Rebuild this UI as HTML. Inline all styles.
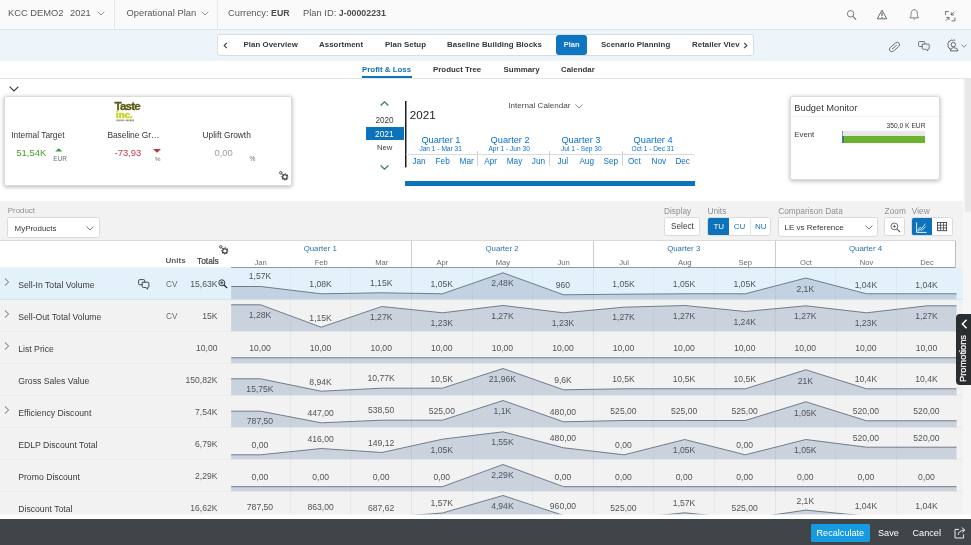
<!DOCTYPE html>
<html lang="en"><head><meta charset="utf-8"><title>Plan - Profit &amp; Loss</title>
<style>
*{box-sizing:border-box;margin:0;padding:0}
html,body{width:971px;height:545px;overflow:hidden;background:#fff}
body{font-family:"Liberation Sans",sans-serif;font-size:9px;color:#32363a;-webkit-font-smoothing:antialiased}
#app{position:relative;width:971px;height:545px;overflow:hidden;background:#fff}
.abs,.t{position:absolute;white-space:nowrap}
.t{line-height:12px;height:12px}
/* shell header */
.shell{position:absolute;left:0;top:0;width:971px;height:29.5px;background:#fafafa;border-bottom:1px solid #e1e5e8}
.shell .sep{position:absolute;top:0;width:1px;height:29px;background:#e8e8e8}
.shell .t{font-size:9.35px;color:#55595c;top:6.6px}
.shell b{color:#4a4e52;font-size:8.8px}
.ico{position:absolute;overflow:visible}
/* nav bar */
.navbar{position:absolute;left:0;top:29.5px;width:971px;height:31px;background:#eef5fa}
.navbox{position:absolute;left:217px;top:4.5px;width:536.5px;height:21.5px;background:#fff;border:1px solid #d8dde2;border-radius:3px}
.navbox .t{font-size:7.85px;font-weight:bold;color:#32363a;top:4.2px;letter-spacing:0.05px}
.navbox .act{position:absolute;left:338px;top:0;width:30.8px;height:19.5px;background:#0e76c0;border-radius:3px}
/* sub tabs */
.subtabs{position:absolute;left:0;top:60.5px;width:971px;height:18px;background:#fff;border-bottom:1px solid #e5e5e5}
.subtabs .t{font-size:7.9px;font-weight:bold;color:#32363a;top:3.2px}
.subtabs .on{color:#1470b4}
.subtabs .ul{position:absolute;left:361.5px;top:15.8px;width:50px;height:2px;background:#1470b4}
/* kpi zone */
.card{position:absolute;background:#fff;border:1px solid #dcdcdc;border-radius:2px;box-shadow:0 1px 4px rgba(0,0,0,.3)}
.kl{font-size:8.35px;color:#32363a}
.kv{font-size:9.45px}
.ku{font-size:6.2px;color:#6a6d70}
/* calendar */
.cal .t{color:#0a6ed1}
.q{font-size:9.25px;color:#2a75a8}
.qs{font-size:6.6px;color:#2b6d9c}
.m{font-size:8.2px;color:#337aae}
/* filter bar */
.fbar{position:absolute;left:0;top:201px;width:963px;height:40px;background:#f2f2f2}
.fl{font-size:8.3px;color:#8d9093}
.inp{position:absolute;background:#fff;border:1px solid #d9dcdf;border-radius:2.5px}
.inp .t{font-size:8.2px;color:#32363a}
/* table */
.thead{z-index:3;position:absolute;left:0;top:240px;width:956px;height:27px;background:#fff;border-top:1px solid #d9d9d9}
.thead .hr{position:absolute;left:955px;top:0;width:1px;height:27px;background:#b9bdc0}
.thead .hb{position:absolute;left:231px;top:25.6px;width:725px;height:1.2px;background:#92989d}
.th-units{position:absolute;left:165.6px;top:14.2px;font-size:8px;font-weight:bold;color:#5a5e61;line-height:12px}
.th-totals{position:absolute;left:196.6px;top:13.6px;font-size:9.4px;color:#3a3e42;line-height:12px;transform-origin:0 50%;transform:scaleX(.89);-webkit-text-stroke:0.22px #3a3e42}
.qh{position:absolute;top:1.8px;height:12px;line-height:12px;text-align:center;font-size:7.85px;color:#2a75a8}
.mh{position:absolute;top:15.7px;height:12px;line-height:12px;text-align:center;font-size:7.6px;color:#6a6d70}
.qdiv{position:absolute;top:0;width:1px;height:26px;background:#c9cdd0}
.tbody{position:absolute;left:0;top:241px;width:963px;height:273.6px;overflow:hidden;background:#f2f2f2}
.row{position:absolute;left:0;width:963px;height:32px;border-bottom:1px solid #eaebec;background:#f2f2f2}
.row.sel{background:#e3f1fb;border-bottom-color:#d6e4ee}
.exp{position:absolute;left:3px;top:9.5px}
.rname{position:absolute;left:18.2px;top:11.6px;height:12px;line-height:12px;font-size:8.68px;color:#383c40;white-space:nowrap}
.runit{position:absolute;left:166px;top:11.5px;height:12px;line-height:12px;font-size:8.2px;color:#6a6d70}
.rtotal{position:absolute;left:150px;width:67.5px;text-align:right;height:12px;line-height:12px;font-size:8.6px;color:#50555a}
.chart{position:absolute;left:231px;top:0}
.ar{fill:#a9b8cd;fill-opacity:.55;stroke:none}
.ln{fill:none;stroke:#64727d;stroke-width:.9}
.val{position:absolute;height:12px;line-height:12px;text-align:center;font-size:8.6px;color:#50555a}
.cgl{position:absolute;top:26.5px;width:1px;height:250px;background:rgba(120,130,140,.075)}
.cgl.q{background:rgba(110,120,130,.12)}
/* footer */
.foot{position:absolute;left:0;top:519px;width:971px;height:26px;background:#3f4548}
.foot .t{font-size:9.15px;color:#fff;top:8px}
.foot .btn{position:absolute;left:811px;top:5px;width:59px;height:18px;background:#179be0;border-radius:1.5px}
.sb{position:absolute;left:963px;top:79px;width:8px;height:436px;background:#f6f6f6}
.sbt{position:absolute;left:965.4px;top:79px;width:5.6px;height:133px;background:#e8e8e8;border-radius:0 0 2px 2px}
.promo{position:absolute;left:956px;top:314px;width:15px;height:71px;background:#2a2e31;border-radius:4px 0 0 4px}

</style></head>
<body>
<div id="app">
<!-- shell header -->
<div class="shell">
  <div class="t" style="left:8px">KCC DEMO2</div><div class="t" style="left:70px">2021</div>
  <svg class="ico" style="left:97px;top:11px" width="8" height="5" viewBox="0 0 8 5"><path d="M0.6 0.6 L4 4 L7.4 0.6" fill="none" stroke="#6a86a5" stroke-width="0.85"/></svg>
  <div class="sep" style="left:114px"></div>
  <div class="t" style="left:126.5px">Operational Plan</div>
  <svg class="ico" style="left:200.5px;top:11px" width="8" height="5" viewBox="0 0 8 5"><path d="M0.6 0.6 L4 4 L7.4 0.6" fill="none" stroke="#6a86a5" stroke-width="0.85"/></svg>
  <div class="sep" style="left:217px"></div>
  <div class="t" style="left:228px">Currency: <b>EUR</b></div>
  <div class="t" style="left:303px">Plan ID: <b>J-00002231</b></div>
  <!-- search -->
  <svg class="ico" style="left:846px;top:9px" width="12" height="12" viewBox="0 0 12 12"><circle cx="4.6" cy="4.8" r="3.2" fill="none" stroke="#6a6d70" stroke-width="0.9"/><path d="M6.9 7.3 L10.1 10.6" stroke="#6a6d70" stroke-width="1.1" fill="none"/></svg>
  <!-- warning -->
  <svg class="ico" style="left:875.8px;top:9px" width="12" height="11" viewBox="0 0 12 11"><path d="M6 1.2 L10.8 9.8 L1.2 9.8 Z" fill="none" stroke="#55595c" stroke-width="0.9" stroke-linejoin="round"/><path d="M6 3.6 L6 7" stroke="#55595c" stroke-width="1.1"/><circle cx="6" cy="8.4" r="0.6" fill="#55595c"/></svg>
  <!-- bell -->
  <svg class="ico" style="left:909.3px;top:9.4px" width="10.4" height="11.3" viewBox="0 0 11 12"><path d="M1 9.4 C2.3 8 2 6.3 2.2 4.4 C2.4 2.2 3.7 0.8 5.5 0.8 C7.3 0.8 8.6 2.2 8.8 4.4 C9 6.3 8.7 8 10 9.4 Z" fill="none" stroke="#6a6d70" stroke-width="0.9" stroke-linejoin="round"/><path d="M4.5 10.4 Q5.5 11.4 6.5 10.4" fill="none" stroke="#6a6d70" stroke-width="0.9"/></svg>
  <!-- exit fullscreen -->
  <svg class="ico" style="left:944.8px;top:10.6px" width="10.4" height="10.4" viewBox="0 0 11 11"><path d="M0.5 4 L0.5 0.5 L4 0.5 M10.5 7 L10.5 10.5 L7 10.5" fill="none" stroke="#55595c" stroke-width="0.9"/><path d="M10 0.8 L6.6 4.2 M6.6 1.4 L6.6 4.2 L9.4 4.2 M0.8 10.2 L4.2 6.8 M1.4 6.8 L4.2 6.8 L4.2 9.6" fill="none" stroke="#55595c" stroke-width="0.9"/></svg>
</div>

<!-- nav bar -->
<div class="navbar">
  <div class="navbox">
    <svg class="ico" style="left:5px;top:6.6px" width="5" height="7" viewBox="0 0 5 7"><path d="M3.8 0.8 L1.2 3.5 L3.8 6.2" fill="none" stroke="#45494d" stroke-width="1.2"/></svg>
    <div class="t" style="left:25.5px">Plan Overview</div>
    <div class="t" style="left:101px">Assortment</div>
    <div class="t" style="left:167px">Plan Setup</div>
    <div class="t" style="left:229px">Baseline Building Blocks</div>
    <div class="act"></div>
    <div class="t" style="left:345.7px;color:#eef6fd;font-size:7.5px;top:3.6px">Plan</div>
    <div class="t" style="left:383px">Scenario Planning</div>
    <div class="t" style="left:474px">Retailer Viev</div>
    <svg class="ico" style="left:524.6px;top:6.6px" width="5" height="7" viewBox="0 0 5 7"><path d="M1.2 0.8 L3.8 3.5 L1.2 6.2" fill="none" stroke="#45494d" stroke-width="1.2"/></svg>
  </div>
  <!-- paperclip -->
  <svg class="ico" style="left:888px;top:11px" width="13" height="12" viewBox="0 0 13 12"><g transform="rotate(-40 6.5 6)"><rect x="0.6" y="3.6" width="11.8" height="4.8" rx="2.4" fill="none" stroke="#6a6d70" stroke-width="0.9"/><path d="M3.2 6 L9.4 6" stroke="#6a6d70" stroke-width="0.9" fill="none"/></g></svg>
  <!-- chat -->
  <svg class="ico" style="left:918.2px;top:11.4px" width="12" height="11" viewBox="0 0 13 12"><rect x="0.6" y="0.6" width="6.8" height="5.4" rx="1" fill="none" stroke="#55595c" stroke-width="0.9"/><path d="M4.6 3.4 L11.2 3.4 Q12.2 3.4 12.2 4.4 L12.2 8 Q12.2 9 11.2 9 L10.6 9 L10.6 10.8 L8.6 9 L5.6 9 Q4.6 9 4.6 8 Z" fill="#eef5fa" stroke="#55595c" stroke-width="0.9" stroke-linejoin="round"/></svg>
  <!-- user settings -->
  <svg class="ico" style="left:947px;top:9.6px" width="12" height="13" viewBox="0 0 12 13"><path d="M8.2 1.6 L6.9 0.8 L5.6 1.5 L4.2 0.9 L3.2 2.1 L1.7 2.4 L1.6 3.9 L0.6 5 L1.3 6.4 L0.9 7.9 L2.2 8.7 L2.6 10.1 L3.8 10.3" fill="none" stroke="#55595c" stroke-width="0.9" stroke-linejoin="round"/><circle cx="6.3" cy="5.6" r="2.2" fill="none" stroke="#55595c" stroke-width="0.9"/><path d="M3.4 11.9 Q3.4 8.6 6.6 8.6 Q10.8 8.6 11 11.9 Z" fill="none" stroke="#55595c" stroke-width="0.9" stroke-linejoin="round"/></svg>
  <svg class="ico" style="left:961px;top:14.5px" width="6" height="4" viewBox="0 0 6 4"><path d="M0.4 0.5 L3 3.2 L5.6 0.5" fill="none" stroke="#6a6d70" stroke-width="0.8"/></svg>
</div>

<!-- sub tabs -->
<div class="subtabs">
  <div class="t on" style="left:362px">Profit &amp; Loss</div>
  <div class="ul"></div>
  <div class="t" style="left:433px">Product Tree</div>
  <div class="t" style="left:503.6px">Summary</div>
  <div class="t" style="left:561px">Calendar</div>
</div>

<!-- collapse chevron -->
<svg class="ico" style="left:8.8px;top:86.1px" width="10" height="6" viewBox="0 0 10 6"><path d="M0.6 0.7 L5 4.9 L9.4 0.7" fill="none" stroke="#32363a" stroke-width="1.1"/></svg>

<!-- KPI card -->
<div class="card" style="left:3.9px;top:95.7px;width:288.4px;height:90.2px">
  <div class="abs" style="left:109.6px;top:3.6px;font-size:11.7px;font-weight:bold;color:#5b5a12;letter-spacing:-0.85px;line-height:11px;-webkit-text-stroke:0.3px #5b5a12">Taste</div>
  <div class="abs" style="left:110.9px;top:14.4px;font-size:8.4px;font-weight:bold;color:#c5d21e;letter-spacing:0;line-height:9px;transform-origin:0 50%;transform:scaleX(1.15);-webkit-text-stroke:0.45px #c5d21e">inc.</div>
  <svg class="ico" style="left:111.6px;top:22px" width="20" height="3" viewBox="0 0 20 3"><path d="M0.4 1.4 H8.4 M9.6 1.4 H18.2" stroke="#6f6c3c" stroke-width="1.7" stroke-dasharray="1.1 0.35" fill="none" opacity=".75"/></svg>
  <div class="t kl" style="left:6.4px;top:32px">Internal Target</div>
  <div class="t kv" style="left:11.4px;top:50px;color:#4d9a2d">51,54K</div>
  <svg class="ico" style="left:50.4px;top:51.8px" width="7.6" height="3.6" viewBox="0 0 8 4"><path d="M0 4 L4 0.2 L8 4 Z" fill="#3f9a3a"/></svg>
  <div class="t ku" style="left:48.4px;top:56.2px;font-size:6.5px">EUR</div>
  <div class="t kl" style="left:102.5px;top:32px">Baseline Gr…</div>
  <div class="t kv" style="left:109.6px;top:50px;color:#c23b46">-73,93</div>
  <svg class="ico" style="left:148.5px;top:52px" width="8" height="4" viewBox="0 0 8 4"><path d="M0 0 L8 0 L4 3.8 Z" fill="#c4303c"/></svg>
  <div class="t ku" style="left:150.2px;top:56.6px">%</div>
  <div class="t kl" style="left:197.7px;top:32px">Uplift Growth</div>
  <div class="t kv" style="left:209.5px;top:50px;color:#9a9da0">0,00</div>
  <div class="t ku" style="left:244.6px;top:56.6px;font-size:6.6px">%</div>
  <!-- gear -->
  <svg class="ico" style="left:274px;top:74px" width="10" height="10" viewBox="0 0 10 10"><circle cx="1.8" cy="1.8" r="1.25" fill="none" stroke="#32363a" stroke-width="0.85"/><path d="M2.7 2.7 L3.8 3.9" stroke="#32363a" stroke-width="0.8" fill="none"/><circle cx="5.9" cy="5.9" r="2.2" fill="none" stroke="#32363a" stroke-width="1.05"/><circle cx="5.9" cy="5.9" r="3" fill="none" stroke="#32363a" stroke-width="1.1" stroke-dasharray="1.2 1.1562" stroke-dashoffset="0.6"/></svg>
</div>

<!-- calendar -->
<div class="cal">
  <svg class="ico" style="left:380px;top:100.8px" width="9" height="5" viewBox="0 0 9 5"><path d="M0.6 4.5 L4.5 0.8 L8.4 4.5" fill="none" stroke="#3b7a5e" stroke-width="1.25"/></svg>
  <div class="t" style="left:375.4px;top:115px;font-size:8.2px;color:#3a3e42">2020</div>
  <div class="abs" style="left:365.8px;top:127.2px;width:38.4px;height:13px;background:#0c72bc"></div>
  <div class="t" style="left:375px;top:128px;font-size:8.4px;color:#fff">2021</div>
  <div class="t" style="left:377px;top:141.5px;font-size:7.7px;color:#3a3e42">New</div>
  <svg class="ico" style="left:380px;top:164.8px" width="9" height="5" viewBox="0 0 9 5"><path d="M0.6 0.5 L4.5 4.2 L8.4 0.5" fill="none" stroke="#3b7a5e" stroke-width="1.25"/></svg>
  <svg class="ico" style="left:404px;top:101px" width="4" height="67" viewBox="0 0 4 67"><rect x="1" y="0" width="1.5" height="66.4" fill="#1c1c1c"/></svg>
  <div class="t" style="left:409.8px;top:108px;font-size:11.6px;color:#222;line-height:14px;height:14px">2021</div>
  <div class="t" style="left:508.3px;top:99.8px;font-size:8.1px;color:#45494d">Internal Calendar</div>
  <svg class="ico" style="left:574.5px;top:104.4px" width="8" height="5" viewBox="0 0 8 5"><path d="M0.5 0.5 L4 4 L7.5 0.5" fill="none" stroke="#6a6d70" stroke-width="0.8"/></svg>
  <div class="abs" style="left:406px;top:153.6px;width:289px;height:1px;background:#d9dcde"></div>
  <div class="abs" style="left:477.2px;top:150.5px;width:1px;height:15px;background:#d0d3d6"></div>
  <div class="abs" style="left:549px;top:150.5px;width:1px;height:15px;background:#d0d3d6"></div>
  <div class="abs" style="left:622px;top:150.5px;width:1px;height:15px;background:#d0d3d6"></div>
  <div class="t q" style="left:421.4px;top:133.6px">Quarter 1</div>
  <div class="t q" style="left:490.6px;top:133.6px">Quarter 2</div>
  <div class="t q" style="left:561.4px;top:133.6px">Quarter 3</div>
  <div class="t q" style="left:633.6px;top:133.6px">Quarter 4</div>
  <div class="t qs" style="left:419.4px;top:142.6px">Jan 1 - Mar 31</div>
  <div class="t qs" style="left:488.4px;top:142.6px">Apr 1 - Jun 30</div>
  <div class="t qs" style="left:561px;top:142.6px">Jul 1 - Sep 30</div>
  <div class="t qs" style="left:631.6px;top:142.6px">Oct 1 - Dec 31</div>
  <div class="t m" style="left:412.4px;top:155.6px">Jan</div>
  <div class="t m" style="left:435.6px;top:155.6px">Feb</div>
  <div class="t m" style="left:459.6px;top:155.6px">Mar</div>
  <div class="t m" style="left:484.2px;top:155.6px">Apr</div>
  <div class="t m" style="left:506.8px;top:155.6px">May</div>
  <div class="t m" style="left:531.8px;top:155.6px">Jun</div>
  <div class="t m" style="left:557.6px;top:155.6px">Jul</div>
  <div class="t m" style="left:579.4px;top:155.6px">Aug</div>
  <div class="t m" style="left:603.6px;top:155.6px">Sep</div>
  <div class="t m" style="left:628px;top:155.6px">Oct</div>
  <div class="t m" style="left:651.6px;top:155.6px">Nov</div>
  <div class="t m" style="left:675.4px;top:155.6px">Dec</div>
  <div class="abs" style="left:405px;top:181.2px;width:290px;height:4.8px;background:#0c72bc"></div>
</div>

<!-- budget monitor -->
<div class="card" style="left:789.5px;top:95.7px;width:150.3px;height:84.8px">
  <div class="t" style="left:3.8px;top:5.2px;font-size:9.3px;color:#32363a">Budget Monitor</div>
  <div class="abs" style="left:0;top:19.6px;width:148.3px;height:1px;background:#f1f1f1"></div>
  <div class="t" style="left:86px;width:49px;text-align:right;top:23.4px;font-size:6.7px;color:#32363a">350,0 K EUR</div>
  <div class="t" style="left:3.8px;top:32.2px;font-size:7.8px;color:#32363a">Event</div>
  <div class="abs" style="left:51.5px;top:34.6px;width:83.2px;height:5.4px;background:#e6e8e5"></div>
  <div class="abs" style="left:51.5px;top:39.8px;width:83.2px;height:6.4px;background:#6db22e"></div>
  <div class="abs" style="left:51.5px;top:34.4px;width:1px;height:11.6px;background:#8a9aa8"></div>
  <div class="abs" style="left:51.5px;top:39.8px;width:1.6px;height:6.4px;background:#3d7896"></div>
</div>

<!-- filter bar -->
<div class="fbar">
  <div class="t fl" style="left:7.8px;top:4.4px;font-size:7.9px">Product</div>
  <div class="inp" style="left:7.2px;top:16px;width:92.4px;height:21px">
    <div class="t" style="left:6.4px;top:4.6px;font-size:7.95px">MyProducts</div>
    <svg class="ico" style="left:77.5px;top:7.6px" width="8" height="5" viewBox="0 0 8 5"><path d="M0.5 0.6 L4 4 L7.5 0.6" fill="none" stroke="#55595c" stroke-width="0.8"/></svg>
  </div>
  <div class="t fl" style="left:664px;top:4px">Display</div>
  <div class="inp" style="left:663.5px;top:16.4px;width:36.5px;height:18.4px"><div class="t" style="left:6.6px;top:2.4px;font-size:8.2px">Select</div></div>
  <div class="t fl" style="left:707.4px;top:4px">Units</div>
  <div class="inp" style="left:707px;top:16.4px;width:64px;height:18.4px;overflow:hidden">
    <div class="abs" style="left:-1px;top:-1px;width:22px;height:18.5px;background:#0c72bc;border-radius:2.5px 0 0 2.5px"></div>
    <div class="t" style="left:5.4px;top:2.4px;color:#fff;font-size:8px">TU</div>
    <div class="abs" style="left:41.8px;top:0;width:1px;height:17px;background:#dfe3e6"></div>
    <div class="t" style="left:25.8px;top:2.4px;color:#1470b4;font-size:8px">CU</div>
    <div class="t" style="left:47px;top:2.4px;color:#1470b4;font-size:8px">NU</div>
  </div>
  <div class="t fl" style="left:778.2px;top:4px">Comparison Data</div>
  <div class="inp" style="left:778px;top:16.4px;width:100px;height:19.5px">
    <div class="t" style="left:5.6px;top:3.4px;font-size:8px">LE vs Reference</div>
    <svg class="ico" style="left:86.4px;top:6.6px" width="8" height="5" viewBox="0 0 8 5"><path d="M0.5 0.6 L4 4 L7.5 0.6" fill="none" stroke="#55595c" stroke-width="0.8"/></svg>
  </div>
  <div class="t fl" style="left:884.6px;top:4px">Zoom</div>
  <div class="inp" style="left:884px;top:16.4px;width:20.5px;height:19px">
    <svg class="ico" style="left:4.5px;top:3.6px" width="11" height="11" viewBox="0 0 11 11"><circle cx="4.4" cy="4.4" r="3.4" fill="none" stroke="#5a5e62" stroke-width="0.9"/><path d="M6.9 6.9 L10 10" stroke="#5a5e62" stroke-width="1.1"/><path d="M2.7 4.4 H6.1 M4.4 2.7 V6.1" stroke="#5a5e62" stroke-width="0.8"/></svg>
  </div>
  <div class="t fl" style="left:911.8px;top:4px">View</div>
  <div class="inp" style="left:911px;top:16.4px;width:42px;height:18.6px;overflow:hidden">
    <div class="abs" style="left:-1px;top:-1px;width:21px;height:19px;background:#0c72bc;border-radius:2.5px 0 0 2.5px"></div>
    <svg class="ico" style="left:4px;top:3.4px" width="11" height="11" viewBox="0 0 11 11"><path d="M0.6 0.4 V10.4 H10.6" fill="none" stroke="#fff" stroke-width="0.9"/><path d="M1.6 8.6 L4 5.2 L5.8 6.6 L9.4 1.6 M1.8 9.6 L4.2 7.4 L6 8.4 L9.6 4.6" fill="none" stroke="#fff" stroke-width="0.8"/></svg>
    <svg class="ico" style="left:25px;top:3.6px" width="10" height="9.2" viewBox="0 0 11 10"><rect x="0.5" y="0.5" width="10" height="9" fill="none" stroke="#45494d" stroke-width="1"/><path d="M3.9 0.5 V9.5 M7.2 0.5 V9.5 M0.5 3.5 H10.5 M0.5 6.5 H10.5" stroke="#45494d" stroke-width="0.9" fill="none"/></svg>
  </div>
</div>
<div class="thead">
<div class="th-units">Units</div><div class="th-totals">Totals</div>
<svg class="ico" style="left:218.6px;top:3.6px" width="10" height="10" viewBox="0 0 10 10"><circle cx="1.8" cy="1.8" r="1.25" fill="none" stroke="#32363a" stroke-width="0.85"/><path d="M2.7 2.7 L3.8 3.9" stroke="#32363a" stroke-width="0.8" fill="none"/><circle cx="5.9" cy="5.9" r="2.2" fill="none" stroke="#32363a" stroke-width="1.05"/><circle cx="5.9" cy="5.9" r="3" fill="none" stroke="#32363a" stroke-width="1.1" stroke-dasharray="1.2 1.1562" stroke-dashoffset="0.6"/></svg>
<div class="hb"></div><div class="hr"></div>
<div class="qh" style="left:229.3px;width:181.8px">Quarter 1</div>
<div class="qh" style="left:411.1px;width:181.8px">Quarter 2</div>
<div class="qh" style="left:592.8px;width:181.8px">Quarter 3</div>
<div class="qh" style="left:774.6px;width:181.8px">Quarter 4</div>
<div class="mh" style="left:230.3px;width:60.6px">Jan</div>
<div class="mh" style="left:290.9px;width:60.6px">Feb</div>
<div class="mh" style="left:351.5px;width:60.6px">Mar</div>
<div class="mh" style="left:412.1px;width:60.6px">Apr</div>
<div class="mh" style="left:472.7px;width:60.6px">May</div>
<div class="mh" style="left:533.3px;width:60.6px">Jun</div>
<div class="mh" style="left:593.8px;width:60.6px">Jul</div>
<div class="mh" style="left:654.4px;width:60.6px">Aug</div>
<div class="mh" style="left:715.0px;width:60.6px">Sep</div>
<div class="mh" style="left:775.6px;width:60.6px">Oct</div>
<div class="mh" style="left:836.2px;width:60.6px">Nov</div>
<div class="mh" style="left:896.8px;width:60.6px">Dec</div>
<div class="qdiv" style="left:411px"></div>
<div class="qdiv" style="left:593px"></div>
<div class="qdiv" style="left:775px"></div>
</div>
<div class="tbody">
<div class="row sel" style="top:26.5px">
<svg class="exp" viewBox="0 0 8 10" width="8" height="10"><path d="M2 1.5 L5.6 5 L2 8.5" fill="none" stroke="#555" stroke-width="0.9"/></svg><div class="rname" style="top:11.6px">Sell-In Total Volume</div><svg class="ico" style="left:137.5px;top:11px" width="12" height="11" viewBox="0 0 12 11"><rect x="0.6" y="0.6" width="6.2" height="5.2" rx="1.2" fill="none" stroke="#32363a" stroke-width="0.9"/><path d="M4.2 3.2 L9.8 3.2 Q10.9 3.2 10.9 4.3 L10.9 7.4 Q10.9 8.5 9.8 8.5 L9.6 8.5 L9.6 10.2 L7.8 8.5 L5.3 8.5 Q4.2 8.5 4.2 7.4 Z" fill="#e3f1fb" stroke="#32363a" stroke-width="0.9" stroke-linejoin="round"/></svg><svg class="ico" style="left:217.8px;top:11.4px" width="10" height="10" viewBox="0 0 10 10"><circle cx="3.8" cy="3.8" r="3" fill="none" stroke="#1d2124" stroke-width="0.9"/><path d="M6 6 L9.2 9.2" stroke="#1d2124" stroke-width="1.2"/><path d="M2.2 3.8 H5.4 M3.8 2.2 V5.4" stroke="#1d2124" stroke-width="0.8"/></svg><div class="runit">CV</div><div class="rtotal" style="top:10.6px">15,63K</div>
<svg class="chart" width="726" height="32.0" viewBox="0 0 726 32.0"><polygon points="0.2,18.5 29.6,18.5 90.2,25.8 150.8,24.8 211.4,25.8 272.0,4.8 332.6,26.8 393.1,26.2 453.7,25.8 514.3,25.8 574.9,10.0 635.5,25.8 696.1,25.8 725.5,25.8 725.5,31.3 0.2,31.3" class="ar"/><polyline points="0.2,18.5 29.6,18.5 90.2,25.8 150.8,24.8 211.4,25.8 272.0,4.8 332.6,26.8 393.1,26.2 453.7,25.8 514.3,25.8 574.9,10.0 635.5,25.8 696.1,25.8 725.5,25.8" class="ln"/></svg>
<div class="val" style="left:229.7px;width:60.6px;top:2.5px">1,57K</div><div class="val" style="left:290.3px;width:60.6px;top:10.5px">1,08K</div><div class="val" style="left:350.9px;width:60.6px;top:9.8px">1,15K</div><div class="val" style="left:411.5px;width:60.6px;top:10.8px">1,05K</div><div class="val" style="left:472.1px;width:60.6px;top:9.8px">2,48K</div><div class="val" style="left:532.7px;width:60.6px;top:11.8px">960</div><div class="val" style="left:593.2px;width:60.6px;top:10.8px">1,05K</div><div class="val" style="left:653.8px;width:60.6px;top:10.8px">1,05K</div><div class="val" style="left:714.4px;width:60.6px;top:10.8px">1,05K</div><div class="val" style="left:775.0px;width:60.6px;top:15.5px">2,1K</div><div class="val" style="left:835.6px;width:60.6px;top:11.0px">1,04K</div><div class="val" style="left:896.2px;width:60.6px;top:11.0px">1,04K</div>
</div>
<div class="row" style="top:58.5px">
<svg class="exp" viewBox="0 0 8 10" width="8" height="10"><path d="M2 1.5 L5.6 5 L2 8.5" fill="none" stroke="#555" stroke-width="0.9"/></svg><div class="rname" style="top:11.6px">Sell-Out Total Volume</div><div class="runit">CV</div><div class="rtotal" style="top:10.6px">15K</div>
<svg class="chart" width="726" height="32.0" viewBox="0 0 726 32.0"><polygon points="0.2,4.8 29.6,4.8 90.2,27.2 150.8,6.5 211.4,12.8 272.0,5.5 332.6,12.8 393.1,7.2 453.7,5.5 514.3,11.5 574.9,5.8 635.5,12.8 696.1,5.8 725.5,5.8 725.5,31.3 0.2,31.3" class="ar"/><polyline points="0.2,4.8 29.6,4.8 90.2,27.2 150.8,6.5 211.4,12.8 272.0,5.5 332.6,12.8 393.1,7.2 453.7,5.5 514.3,11.5 574.9,5.8 635.5,12.8 696.1,5.8 725.5,5.8" class="ln"/></svg>
<div class="val" style="left:229.7px;width:60.6px;top:9.5px">1,28K</div><div class="val" style="left:290.3px;width:60.6px;top:12.2px">1,15K</div><div class="val" style="left:350.9px;width:60.6px;top:11.2px">1,27K</div><div class="val" style="left:411.5px;width:60.6px;top:17.2px">1,23K</div><div class="val" style="left:472.1px;width:60.6px;top:10.2px">1,27K</div><div class="val" style="left:532.7px;width:60.6px;top:17.2px">1,23K</div><div class="val" style="left:593.2px;width:60.6px;top:11.5px">1,27K</div><div class="val" style="left:653.8px;width:60.6px;top:10.2px">1,27K</div><div class="val" style="left:714.4px;width:60.6px;top:16.8px">1,24K</div><div class="val" style="left:775.0px;width:60.6px;top:10.5px">1,27K</div><div class="val" style="left:835.6px;width:60.6px;top:17.2px">1,23K</div><div class="val" style="left:896.2px;width:60.6px;top:10.5px">1,27K</div>
</div>
<div class="row" style="top:90.5px">
<svg class="exp" viewBox="0 0 8 10" width="8" height="10"><path d="M2 1.5 L5.6 5 L2 8.5" fill="none" stroke="#555" stroke-width="0.9"/></svg><div class="rname" style="top:11.6px">List Price</div><div class="rtotal" style="top:10.6px">10,00</div>
<svg class="chart" width="726" height="32.0" viewBox="0 0 726 32.0"><polygon points="0.2,25.8 29.6,25.8 90.2,25.8 150.8,25.8 211.4,25.8 272.0,25.8 332.6,25.8 393.1,25.8 453.7,25.8 514.3,25.8 574.9,25.8 635.5,25.8 696.1,25.8 725.5,25.8 725.5,31.3 0.2,31.3" class="ar"/><polyline points="0.2,25.8 29.6,25.8 90.2,25.8 150.8,25.8 211.4,25.8 272.0,25.8 332.6,25.8 393.1,25.8 453.7,25.8 514.3,25.8 574.9,25.8 635.5,25.8 696.1,25.8 725.5,25.8" class="ln"/></svg>
<div class="val" style="left:229.7px;width:60.6px;top:10.5px">10,00</div><div class="val" style="left:290.3px;width:60.6px;top:10.5px">10,00</div><div class="val" style="left:350.9px;width:60.6px;top:10.5px">10,00</div><div class="val" style="left:411.5px;width:60.6px;top:10.5px">10,00</div><div class="val" style="left:472.1px;width:60.6px;top:10.5px">10,00</div><div class="val" style="left:532.7px;width:60.6px;top:10.5px">10,00</div><div class="val" style="left:593.2px;width:60.6px;top:10.5px">10,00</div><div class="val" style="left:653.8px;width:60.6px;top:10.5px">10,00</div><div class="val" style="left:714.4px;width:60.6px;top:10.5px">10,00</div><div class="val" style="left:775.0px;width:60.6px;top:10.5px">10,00</div><div class="val" style="left:835.6px;width:60.6px;top:10.5px">10,00</div><div class="val" style="left:896.2px;width:60.6px;top:10.5px">10,00</div>
</div>
<div class="row" style="top:122.5px">
<div class="rname" style="top:11.6px">Gross Sales Value</div><div class="rtotal" style="top:10.6px">150,82K</div>
<svg class="chart" width="726" height="32.0" viewBox="0 0 726 32.0"><polygon points="0.2,14.8 29.6,14.8 90.2,27.2 150.8,24.2 211.4,24.2 272.0,4.5 332.6,25.8 393.1,24.8 453.7,24.8 514.3,24.8 574.9,5.8 635.5,24.8 696.1,24.8 725.5,24.8 725.5,31.3 0.2,31.3" class="ar"/><polyline points="0.2,14.8 29.6,14.8 90.2,27.2 150.8,24.2 211.4,24.2 272.0,4.5 332.6,25.8 393.1,24.8 453.7,24.8 514.3,24.8 574.9,5.8 635.5,24.8 696.1,24.8 725.5,24.8" class="ln"/></svg>
<div class="val" style="left:229.7px;width:60.6px;top:19.7px">15,75K</div><div class="val" style="left:290.3px;width:60.6px;top:12.2px">8,94K</div><div class="val" style="left:350.9px;width:60.6px;top:8.5px">10,77K</div><div class="val" style="left:411.5px;width:60.6px;top:9.2px">10,5K</div><div class="val" style="left:472.1px;width:60.6px;top:9.5px">21,96K</div><div class="val" style="left:532.7px;width:60.6px;top:10.5px">9,6K</div><div class="val" style="left:593.2px;width:60.6px;top:9.2px">10,5K</div><div class="val" style="left:653.8px;width:60.6px;top:9.2px">10,5K</div><div class="val" style="left:714.4px;width:60.6px;top:9.2px">10,5K</div><div class="val" style="left:775.0px;width:60.6px;top:11.2px">21K</div><div class="val" style="left:835.6px;width:60.6px;top:9.5px">10,4K</div><div class="val" style="left:896.2px;width:60.6px;top:9.5px">10,4K</div>
</div>
<div class="row" style="top:154.5px">
<svg class="exp" viewBox="0 0 8 10" width="8" height="10"><path d="M2 1.5 L5.6 5 L2 8.5" fill="none" stroke="#555" stroke-width="0.9"/></svg><div class="rname" style="top:11.6px">Efficiency Discount</div><div class="rtotal" style="top:10.6px">7,54K</div>
<svg class="chart" width="726" height="32.0" viewBox="0 0 726 32.0"><polygon points="0.2,15.2 29.6,15.2 90.2,26.8 150.8,24.2 211.4,24.2 272.0,4.5 332.6,25.8 393.1,24.5 453.7,24.5 514.3,24.5 574.9,5.8 635.5,24.8 696.1,24.8 725.5,24.8 725.5,31.3 0.2,31.3" class="ar"/><polyline points="0.2,15.2 29.6,15.2 90.2,26.8 150.8,24.2 211.4,24.2 272.0,4.5 332.6,25.8 393.1,24.5 453.7,24.5 514.3,24.5 574.9,5.8 635.5,24.8 696.1,24.8 725.5,24.8" class="ln"/></svg>
<div class="val" style="left:229.7px;width:60.6px;top:19.6px">787,50</div><div class="val" style="left:290.3px;width:60.6px;top:11.5px">447,00</div><div class="val" style="left:350.9px;width:60.6px;top:8.5px">538,50</div><div class="val" style="left:411.5px;width:60.6px;top:9.2px">525,00</div><div class="val" style="left:472.1px;width:60.6px;top:9.5px">1,1K</div><div class="val" style="left:532.7px;width:60.6px;top:10.5px">480,00</div><div class="val" style="left:593.2px;width:60.6px;top:9.2px">525,00</div><div class="val" style="left:653.8px;width:60.6px;top:9.2px">525,00</div><div class="val" style="left:714.4px;width:60.6px;top:9.2px">525,00</div><div class="val" style="left:775.0px;width:60.6px;top:11.2px">1,05K</div><div class="val" style="left:835.6px;width:60.6px;top:9.5px">520,00</div><div class="val" style="left:896.2px;width:60.6px;top:9.5px">520,00</div>
</div>
<div class="row" style="top:186.5px">
<div class="rname" style="top:11.6px">EDLP Discount Total</div><div class="rtotal" style="top:10.6px">6,79K</div>
<svg class="chart" width="726" height="32.0" viewBox="0 0 726 32.0"><polygon points="0.2,26.8 29.6,26.8 90.2,20.5 150.8,24.5 211.4,11.2 272.0,3.8 332.6,19.8 393.1,26.8 453.7,11.5 514.3,26.8 574.9,11.5 635.5,19.2 696.1,19.2 725.5,19.2 725.5,31.3 0.2,31.3" class="ar"/><polyline points="0.2,26.8 29.6,26.8 90.2,20.5 150.8,24.5 211.4,11.2 272.0,3.8 332.6,19.8 393.1,26.8 453.7,11.5 514.3,26.8 574.9,11.5 635.5,19.2 696.1,19.2 725.5,19.2" class="ln"/></svg>
<div class="val" style="left:229.7px;width:60.6px;top:11.5px">0,00</div><div class="val" style="left:290.3px;width:60.6px;top:5.5px">416,00</div><div class="val" style="left:350.9px;width:60.6px;top:9.2px">149,12</div><div class="val" style="left:411.5px;width:60.6px;top:16.5px">1,05K</div><div class="val" style="left:472.1px;width:60.6px;top:8.8px">1,55K</div><div class="val" style="left:532.7px;width:60.6px;top:4.8px">480,00</div><div class="val" style="left:593.2px;width:60.6px;top:11.5px">0,00</div><div class="val" style="left:653.8px;width:60.6px;top:16.5px">1,05K</div><div class="val" style="left:714.4px;width:60.6px;top:11.5px">0,00</div><div class="val" style="left:775.0px;width:60.6px;top:16.5px">1,05K</div><div class="val" style="left:835.6px;width:60.6px;top:4.5px">520,00</div><div class="val" style="left:896.2px;width:60.6px;top:4.5px">520,00</div>
</div>
<div class="row" style="top:218.5px">
<div class="rname" style="top:11.3px">Promo Discount</div><div class="rtotal" style="top:10.6px">2,29K</div>
<svg class="chart" width="726" height="32.0" viewBox="0 0 726 32.0"><polygon points="0.2,26.7 29.6,26.7 90.2,26.7 150.8,26.7 211.4,26.7 272.0,4.5 332.6,26.7 393.1,26.7 453.7,26.7 514.3,26.7 574.9,26.7 635.5,26.7 696.1,26.7 725.5,26.7 725.5,31.3 0.2,31.3" class="ar"/><polyline points="0.2,26.7 29.6,26.7 90.2,26.7 150.8,26.7 211.4,26.7 272.0,4.5 332.6,26.7 393.1,26.7 453.7,26.7 514.3,26.7 574.9,26.7 635.5,26.7 696.1,26.7 725.5,26.7" class="ln"/></svg>
<div class="val" style="left:229.7px;width:60.6px;top:11.5px">0,00</div><div class="val" style="left:290.3px;width:60.6px;top:11.5px">0,00</div><div class="val" style="left:350.9px;width:60.6px;top:11.5px">0,00</div><div class="val" style="left:411.5px;width:60.6px;top:11.5px">0,00</div><div class="val" style="left:472.1px;width:60.6px;top:9.8px">2,29K</div><div class="val" style="left:532.7px;width:60.6px;top:11.5px">0,00</div><div class="val" style="left:593.2px;width:60.6px;top:11.5px">0,00</div><div class="val" style="left:653.8px;width:60.6px;top:11.5px">0,00</div><div class="val" style="left:714.4px;width:60.6px;top:11.5px">0,00</div><div class="val" style="left:775.0px;width:60.6px;top:11.5px">0,00</div><div class="val" style="left:835.6px;width:60.6px;top:11.5px">0,00</div><div class="val" style="left:896.2px;width:60.6px;top:11.5px">0,00</div>
</div>
<div class="row" style="top:250.5px">
<div class="rname" style="top:11.1px">Discount Total</div><div class="rtotal" style="top:10.1px">16,62K</div>
<svg class="chart" width="726" height="32.0" viewBox="0 0 726 32.0"><polygon points="0.2,27.0 29.6,27.0 90.2,26.0 150.8,25.8 211.4,21.0 272.0,3.5 332.6,23.5 393.1,27.1 453.7,20.8 514.3,27.1 574.9,18.1 635.5,24.1 696.1,24.1 725.5,24.1 725.5,31.3 0.2,31.3" class="ar"/><polyline points="0.2,27.0 29.6,27.0 90.2,26.0 150.8,25.8 211.4,21.0 272.0,3.5 332.6,23.5 393.1,27.1 453.7,20.8 514.3,27.1 574.9,18.1 635.5,24.1 696.1,24.1 725.5,24.1" class="ln"/></svg>
<div class="val" style="left:229.7px;width:60.6px;top:9.8px">787,50</div><div class="val" style="left:290.3px;width:60.6px;top:9.4px">863,00</div><div class="val" style="left:350.9px;width:60.6px;top:10.1px">687,62</div><div class="val" style="left:411.5px;width:60.6px;top:5.8px">1,57K</div><div class="val" style="left:472.1px;width:60.6px;top:8.8px">4,94K</div><div class="val" style="left:532.7px;width:60.6px;top:8.8px">960,00</div><div class="val" style="left:593.2px;width:60.6px;top:10.4px">525,00</div><div class="val" style="left:653.8px;width:60.6px;top:5.8px">1,57K</div><div class="val" style="left:714.4px;width:60.6px;top:10.4px">525,00</div><div class="val" style="left:775.0px;width:60.6px;top:3.1px">2,1K</div><div class="val" style="left:835.6px;width:60.6px;top:8.4px">1,04K</div><div class="val" style="left:896.2px;width:60.6px;top:8.4px">1,04K</div>
</div>
<div class="cgl" style="left:290px"></div>
<div class="cgl" style="left:350px"></div>
<div class="cgl q" style="left:411px"></div>
<div class="cgl" style="left:472px"></div>
<div class="cgl" style="left:532px"></div>
<div class="cgl q" style="left:593px"></div>
<div class="cgl" style="left:653px"></div>
<div class="cgl" style="left:714px"></div>
<div class="cgl q" style="left:775px"></div>
<div class="cgl" style="left:835px"></div>
<div class="cgl" style="left:896px"></div>
</div>
<div class="sb"></div><div class="sbt"></div>
<div class="abs" style="left:0;top:514px;width:971px;height:5px;background:linear-gradient(to bottom,rgba(255,255,255,.55) 0,rgba(255,255,255,.55) 1px,#fff 1px)"></div>
<div class="promo">
  <svg class="ico" style="left:4.6px;top:5px" width="7" height="10" viewBox="0 0 7 10"><path d="M5.6 0.8 L1.4 5 L5.6 9.2" fill="none" stroke="#fff" stroke-width="1.5"/></svg>
  <div class="abs" style="left:0.8px;top:67.6px;width:60px;height:12px;line-height:12px;font-size:9.3px;color:#fff;transform-origin:0 0;transform:rotate(-90deg);-webkit-text-stroke:0.2px #fff">Promotions</div>
</div>
<div class="foot">
  <div class="btn"></div>
  <div class="t" style="left:816.5px">Recalculate</div>
  <div class="t" style="left:878px">Save</div>
  <div class="t" style="left:912.5px">Cancel</div>
  <svg class="ico" style="left:953.5px;top:8px" width="12" height="12" viewBox="0 0 12 12"><path d="M5 2.4 H1 V11 H9.6 V7.4" fill="none" stroke="#fff" stroke-width="0.9"/><path d="M4.2 7.8 Q4.6 3.6 10.4 3 M7.8 0.6 L10.8 3 L8.2 5.6" fill="none" stroke="#fff" stroke-width="0.9"/></svg>
</div>
</div>
</body></html>
